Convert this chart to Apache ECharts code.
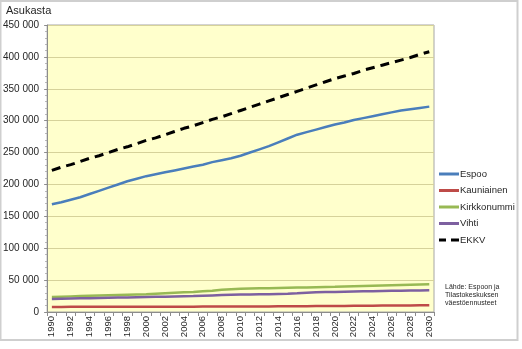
<!DOCTYPE html>
<html>
<head>
<meta charset="utf-8">
<script src="https://cdn.jsdelivr.net/npm/echarts@6/dist/echarts.min.js"></script>
<style>
  html, body { margin: 0; padding: 0; background: #ffffff; }
  #chart { width: 522px; height: 349px; }
</style>
</head>
<body>
<div id="chart"></div>
<script>
// Väestökehitys ja -ennuste 1990–2030
const years = [];
for (let y = 1990; y <= 2030; y++) years.push(String(y));

const espoo = [169000, 172000, 176000, 180000, 185000, 190000, 195000, 200000, 205000, 209000,
  213000, 216000, 219000, 222000, 225000, 228000, 231000, 235000, 238000, 241000,
  245000, 250000, 255000, 260000, 266000, 272000, 278000, 282000, 286000, 290000,
  294000, 297000, 301000, 304000, 307000, 310000, 313000, 316000, 318000, 320000, 322000];

const kauniainen = [8000, 8000, 8100, 8100, 8100, 8200, 8200, 8200, 8300, 8300,
  8300, 8300, 8400, 8400, 8400, 8400, 8500, 8500, 8500, 8500,
  8500, 8600, 8700, 8800, 8900, 9000, 9100, 9200, 9300, 9400,
  9500, 9600, 9700, 9800, 9900, 10000, 10100, 10200, 10300, 10400, 10500];

const kirkkonummi = [23500, 24000, 24500, 25000, 25500, 26000, 26400, 26800, 27200, 27600,
  28000, 28700, 29400, 30100, 30800, 31500, 32500, 33500, 35000, 35800,
  36500, 36800, 37100, 37400, 37700, 38000, 38300, 38600, 38900, 39200,
  39500, 39900, 40300, 40700, 41100, 41500, 41900, 42300, 42700, 43100, 43500];

const vihti = [20500, 20800, 21100, 21400, 21700, 22000, 22300, 22600, 22900, 23200,
  23500, 23800, 24100, 24400, 24700, 25000, 25500, 26000, 26500, 27000,
  27300, 27500, 27700, 27900, 28200, 28500, 29300, 30200, 31000, 31300,
  31500, 31800, 32100, 32400, 32700, 33000, 33200, 33400, 33600, 33800, 34000];

const ekkv = [222000, 227000, 231000, 236000, 241000, 245000, 250000, 255000, 259000, 264000,
  269000, 273000, 278000, 283000, 288000, 292000, 297000, 302000, 306000, 311000,
  316000, 321000, 326000, 331000, 336000, 341000, 346000, 351000, 356000, 361000,
  366000, 370000, 374000, 379000, 383000, 387000, 391000, 395000, 399000, 404000, 408000];

const seriesNames = ['Espoo', 'Kauniainen', 'Kirkkonummi', 'Vihti', 'EKKV'];
const seriesColors = ['#4a7ebb', '#be4b48', '#98b954', '#7d60a0', '#000000'];
const seriesData = [espoo, kauniainen, kirkkonummi, vihti, ekkv];

const fontFamily = '"Liberation Sans", Arial, sans-serif';

// Legend keys: a short solid bar, or two dashes for the dashed total line
const solidKey = 'path://M0,0H20V3H0Z';
const dashedKey = 'path://M0,0H7V3H0Z M12,0H20V3H12Z';

function fmt(v) {
  return String(v).replace(/\B(?=(\d{3})+(?!\d))/g, ' ');
}

const chart = echarts.init(document.getElementById('chart'), null, { renderer: 'canvas' });

chart.setOption({
  animation: false,
  backgroundColor: '#ffffff',
  textStyle: { fontFamily: fontFamily },
  grid: {
    left: 43, right: 88, top: 25, bottom: 37,
    show: true,
    backgroundColor: '#ffffcc',
    borderColor: '#a6a6a6',
    borderWidth: 1
  },
  legend: {
    orient: 'vertical',
    left: 439,
    top: 169,
    padding: 0,
    itemWidth: 20,
    itemHeight: 3,
    itemGap: 6.5,
    textStyle: { fontSize: 9.5, color: '#262626', fontFamily: fontFamily, padding: [0, 0, 0, -4] },
    data: seriesNames.map((n, i) => ({ name: n, icon: i === 4 ? dashedKey : solidKey }))
  },
  xAxis: {
    type: 'category',
    data: years,
    boundaryGap: true,
    axisLine: { lineStyle: { color: '#8c8c8c' } },
    axisTick: { show: true, interval: 0, length: 4, lineStyle: { color: '#8c8c8c' } },
    axisLabel: {
      interval: 1,
      rotate: 90,
      fontSize: 9.5,
      color: '#262626',
      margin: 4
    }
  },
  yAxis: {
    type: 'value',
    min: 0,
    max: 450000,
    interval: 50000,
    axisLine: { show: true, lineStyle: { color: '#8c8c8c' } },
    axisTick: { show: true, length: 3, lineStyle: { color: '#8c8c8c' } },
    minorTick: { show: true, splitNumber: 5, length: 2, lineStyle: { color: '#b0b0b0' } },
    splitLine: { lineStyle: { color: '#d6d29a', width: 1 } },
    axisLabel: {
      fontSize: 10,
      color: '#262626',
      margin: 8,
      formatter: fmt
    }
  },
  series: seriesNames.map((name, i) => ({
    name: name,
    type: 'line',
    data: seriesData[i],
    symbol: 'none',
    smooth: false,
    z: i === 4 ? 5 : 3,
    itemStyle: { color: seriesColors[i] },
    lineStyle: {
      color: seriesColors[i],
      width: i === 4 ? 3 : 2.5,
      type: i === 4 ? [9, 6] : 'solid'
    }
  })),
  graphic: [
    {
      type: 'rect',
      shape: { x: 0.5, y: 1, width: 517, height: 339 },
      style: { fill: 'none', stroke: '#cfcfcf', lineWidth: 2 },
      silent: true
    },
    {
      type: 'text',
      left: 6,
      top: 5,
      style: { text: 'Asukasta', fontSize: 11, fill: '#262626', fontFamily: fontFamily }
    },
    {
      type: 'text',
      left: 445,
      top: 283,
      style: {
        text: 'Lähde: Espoon ja\nTilastokeskuksen\nväestöennusteet',
        fontSize: 7,
        lineHeight: 8,
        fill: '#262626',
        fontFamily: fontFamily
      }
    }
  ]
});
</script>
</body>
</html>
